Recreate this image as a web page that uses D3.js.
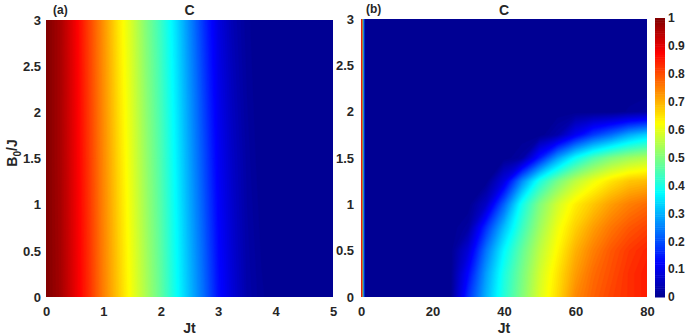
<!DOCTYPE html>
<html>
<head>
<meta charset="utf-8">
<script src="https://cdn.jsdelivr.net/npm/d3@7"></script>
<style>
body { margin: 0; background: #fff; }
text { font-family: "Liberation Sans", Arial, sans-serif; font-weight: bold; fill: #262626; }
</style>
</head>
<body>
<div id="chart"></div>
<script>
// ---- data ----
// panel (a): C over Jt, one row per B0 value
var jtA = [0, 0.25, 0.5, 0.75, 1, 1.25, 1.5, 1.75, 2, 2.25, 2.5, 2.75, 3, 3.25, 3.5, 3.75, 4, 4.25, 4.5, 4.75, 5];
var b0A = [0, 1.5, 3];
var cA_b0_0   = [1.00, 0.965, 0.90, 0.83, 0.75, 0.68, 0.61, 0.54, 0.47, 0.39, 0.31, 0.23, 0.14, 0.08, 0.03, 0.01, 0, 0, 0, 0, 0];
var cA_b0_1p5 = [1.00, 0.96, 0.895, 0.82, 0.74, 0.665, 0.595, 0.52, 0.45, 0.37, 0.285, 0.20, 0.115, 0.06, 0.02, 0, 0, 0, 0, 0, 0];
var cA_b0_3   = [1.00, 0.96, 0.89, 0.81, 0.73, 0.65, 0.58, 0.50, 0.43, 0.35, 0.26, 0.17, 0.09, 0.04, 0.01, 0, 0, 0, 0, 0, 0];

// panel (b): C over Jt (0..80) and B0 (0..3)
var jtB = [0, 5, 10, 15, 20, 25, 30, 35, 40, 45, 50, 55, 60, 65, 70, 75, 80];
var b0B = [0, 0.25, 0.5, 0.75, 1, 1.25, 1.5, 1.75, 2, 2.25, 2.5, 2.75, 3];
var cB = [
  [0, 0, 0, 0, 0, 0, 0.17, 0.30, 0.41, 0.50, 0.59, 0.66, 0.74, 0.78, 0.81, 0.83, 0.85], // B0 = 0
  [0, 0, 0, 0, 0, 0, 0.13, 0.28, 0.40, 0.49, 0.58, 0.65, 0.72, 0.77, 0.80, 0.83, 0.85], // 0.25
  [0, 0, 0, 0, 0, 0, 0.08, 0.24, 0.37, 0.47, 0.56, 0.63, 0.70, 0.75, 0.79, 0.82, 0.84], // 0.5
  [0, 0, 0, 0, 0, 0, 0.02, 0.17, 0.31, 0.43, 0.53, 0.61, 0.67, 0.72, 0.76, 0.79, 0.81], // 0.75
  [0, 0, 0, 0, 0, 0, 0, 0.06, 0.22, 0.39, 0.50, 0.58, 0.64, 0.68, 0.72, 0.75, 0.77],    // 1
  [0, 0, 0, 0, 0, 0, 0, 0, 0.09, 0.26, 0.40, 0.49, 0.56, 0.61, 0.65, 0.68, 0.69],       // 1.25
  [0, 0, 0, 0, 0, 0, 0, 0, 0, 0.02, 0.15, 0.28, 0.38, 0.45, 0.50, 0.53, 0.55],          // 1.5
  [0, 0, 0, 0, 0, 0, 0, 0, 0, 0, 0, 0.03, 0.11, 0.18, 0.23, 0.29, 0.33],                // 1.75
  [0, 0, 0, 0, 0, 0, 0, 0, 0, 0, 0, 0, 0, 0, 0, 0.01, 0.02],                            // 2
  [0, 0, 0, 0, 0, 0, 0, 0, 0, 0, 0, 0, 0, 0, 0, 0, 0],
  [0, 0, 0, 0, 0, 0, 0, 0, 0, 0, 0, 0, 0, 0, 0, 0, 0],
  [0, 0, 0, 0, 0, 0, 0, 0, 0, 0, 0, 0, 0, 0, 0, 0, 0],
  [0, 0, 0, 0, 0, 0, 0, 0, 0, 0, 0, 0, 0, 0, 0, 0, 0]
];
// early sudden death strip of panel (b), steps of 0.25 in Jt
var jtEarly = [0, 0.25, 0.5, 0.75];
var cEarly = [0.85, 0.75, 0.45, 0.2];

var xTicksA = [0, 1, 2, 3, 4, 5];
var xTicksB = [0, 20, 40, 60, 80];
var yTicks = [0, 0.5, 1, 1.5, 2, 2.5, 3];
var cbTicks = [0, 0.1, 0.2, 0.3, 0.4, 0.5, 0.6, 0.7, 0.8, 0.9, 1];

// ---- setup ----
var W = 685, H = 335;
var svg = d3.select("#chart").append("svg")
    .attr("width", W)
    .attr("height", H);

// matlab jet colormap
var jet = d3.scaleLinear()
    .domain([0, 0.125, 0.375, 0.625, 0.875, 1])
    .range(["#00008f", "#0000ff", "#00ffff", "#ffff00", "#ff0000", "#800000"])
    .clamp(true);
var step = 1 / 128;
var levels = d3.range(0, 1, step);

var defs = svg.append("defs");

function drawMap(id, jt, b0, rows, x, y) {
    defs.append("clipPath").attr("id", id)
        .append("rect")
        .attr("x", x.range()[0]).attr("y", y.range()[1])
        .attr("width", x.range()[1] - x.range()[0])
        .attr("height", y.range()[0] - y.range()[1]);

    var values = [];
    rows.forEach(function(r) { r.forEach(function(v) { values.push(v); }); });
    var dj = jt[1] - jt[0], db = b0[1] - b0[0];
    // grid sample i sits at contour coordinate i + 0.5
    var path = d3.geoPath(d3.geoTransform({
        point: function(px, py) {
            this.stream.point(x(jt[0] + (px - 0.5) * dj), y(b0[0] + (py - 0.5) * db));
        }
    }));
    var contours = d3.contours().size([jt.length, b0.length]).thresholds(levels)(values);

    var g = svg.append("g").attr("clip-path", "url(#" + id + ")");
    g.selectAll("path")
        .data(contours)
        .join("path")
        .attr("d", path)
        .attr("fill", function(d) { return jet(d.value + step / 2); })
        .attr("stroke", function(d) { return jet(d.value + step / 2); })
        .attr("stroke-width", 0.3);
    return g;
}

function axes(x, y, xt, ytPad) {
    svg.append("g")
        .attr("transform", "translate(0," + y.range()[0] + ")")
        .call(d3.axisBottom(x).tickValues(xt).tickSize(0).tickPadding(10).tickFormat(d3.format("")))
        .call(function(g) { g.select(".domain").remove(); })
        .selectAll("text").style("font-size", "13px");
    svg.append("g")
        .attr("transform", "translate(" + x.range()[0] + ",0)")
        .call(d3.axisLeft(y).tickValues(yTicks).tickSize(0).tickPadding(ytPad).tickFormat(d3.format("")))
        .call(function(g) { g.select(".domain").remove(); })
        .selectAll("text").style("font-size", "13px");
    var cx = (x.range()[0] + x.range()[1]) / 2;
    svg.append("text").attr("x", cx).attr("y", 333)
        .attr("text-anchor", "middle").style("font-size", "14px").text("Jt");
    svg.append("text").attr("x", cx).attr("y", 15)
        .attr("text-anchor", "middle").style("font-size", "14px").text("C");
}

// ---- panel (a) ----
var xA = d3.scaleLinear().domain([0, 5]).range([46, 333]);
var yA = d3.scaleLinear().domain([0, 3]).range([297, 20]);
drawMap("clipA", jtA, b0A, [cA_b0_0, cA_b0_1p5, cA_b0_3], xA, yA);
axes(xA, yA, xTicksA, 5);
svg.append("text").attr("x", 53).attr("y", 14).style("font-size", "12px").text("(a)");

var yl = svg.append("text")
    .attr("transform", "translate(17,153) rotate(-90)")
    .attr("text-anchor", "middle")
    .style("font-size", "14px");
yl.append("tspan").text("B");
yl.append("tspan").attr("dy", 4).style("font-size", "10px").text("0");
yl.append("tspan").attr("dy", -4).text("/J");

// ---- panel (b) ----
var xB = d3.scaleLinear().domain([0, 80]).range([361, 647]);
var yB = d3.scaleLinear().domain([0, 3]).range([297, 19]);
var gB = drawMap("clipB", jtB, b0B, cB, xB, yB);
gB.selectAll("rect.early")
    .data(jtEarly)
    .join("rect")
    .attr("class", "early")
    .attr("x", function(d) { return xB(d); })
    .attr("y", yB(3))
    .attr("width", xB(0.25) - xB(0))
    .attr("height", yB(0) - yB(3))
    .attr("fill", function(d, i) { return jet(cEarly[i]); });
axes(xB, yB, xTicksB, 7);
svg.append("text").attr("x", 366).attr("y", 13).style("font-size", "12px").text("(b)");

// ---- colorbar ----
var yC = d3.scaleLinear().domain([0, 1]).range([297, 18]);
svg.append("g").selectAll("rect")
    .data(levels)
    .join("rect")
    .attr("x", 655)
    .attr("width", 10)
    .attr("y", function(d) { return yC(d + step); })
    .attr("height", function(d) { return yC(d) - yC(d + step) + 0.5; })
    .attr("fill", function(d) { return jet(d + step / 2); });
svg.append("g")
    .attr("transform", "translate(665,0)")
    .call(d3.axisRight(yC).tickValues(cbTicks).tickSize(0).tickPadding(3).tickFormat(d3.format("")))
    .call(function(g) { g.select(".domain").remove(); })
    .selectAll("text").style("font-size", "12px");
</script>
</body>
</html>
